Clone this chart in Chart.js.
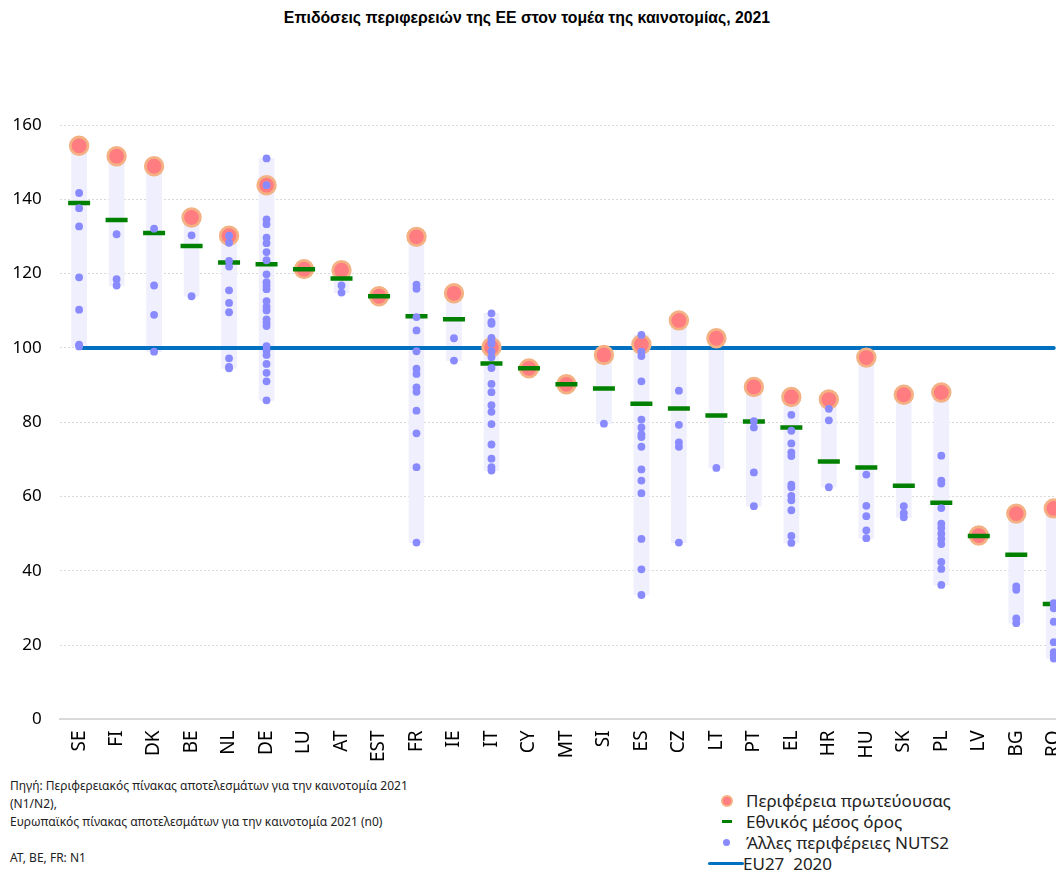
<!DOCTYPE html>
<html lang="el">
<head>
<meta charset="utf-8">
<title>Επιδόσεις περιφερειών της ΕΕ στον τομέα της καινοτομίας, 2021</title>
<script src="https://cdn.jsdelivr.net/npm/chart.js@4.4.1/dist/chart.umd.min.js"></script>
<style>
  html, body { margin: 0; padding: 0; background: #fff; overflow: hidden; width: 1056px; height: 870px; position: relative; }
  #title { position: absolute; left: 0; width: 1054px; top: 9px; text-align: center; font: bold 15.8px 'Liberation Sans', Arial, sans-serif; color: #000; }
  #wrap { position: absolute; left: -6px; top: 0; width: 1094px; height: 775px; }
  #note { position: absolute; left: 10px; top: 777px; font: 12px 'Noto Sans', sans-serif; color: #222; line-height: 18px; }
  #legend { position: absolute; left: 706px; top: 790px; font: 17px 'Noto Sans', sans-serif; color: #222; }
  #legend div { height: 21px; line-height: 21px; display: flex; align-items: center; white-space: pre; }
  #legend span.mk { display: inline-block; width: 40px; position: relative; height: 21px; }
</style>
</head>
<body>
<div id="title">Επιδόσεις περιφερειών της ΕΕ στον τομέα της καινοτομίας, 2021</div>
<div id="wrap"><canvas id="innoChart"></canvas></div>
<div id="note">
  Πηγή: Περιφερειακός πίνακας αποτελεσμάτων για την καινοτομία 2021<br>
  (N1/N2),<br>
  Ευρωπαϊκός πίνακας αποτελεσμάτων για την καινοτομία 2021 (n0)<br>
  <br>
  AT, BE, FR: N1
</div>
<div id="legend"></div>
<script>
// Countries, left to right
const countries = ['SE', 'FI', 'DK', 'BE', 'NL', 'DE', 'LU', 'AT', 'EST', 'FR', 'IE', 'IT', 'CY', 'MT', 'SI',
  'ES', 'CZ', 'LT', 'PT', 'EL', 'HR', 'HU', 'SK', 'PL', 'LV', 'BG', 'RO'];

// Capital region score per country
const capitalRegion = [154.4, 151.6, 148.9, 135.1, 130.2, 143.8, 121.2, 120.9, 113.9, 129.9, 114.7, 100.2, 94.5,
  90.2, 98.1, 100.9, 107.4, 102.6, 89.5, 86.8, 86.1, 97.4, 87.4, 88.0, 49.5, 55.4, 56.8];

// National average per country
const nationalAverage = [139.0, 134.4, 130.9, 127.4, 123.0, 122.5, 121.2, 118.7, 113.9, 108.5, 107.7, 95.8, 94.5,
  90.2, 89.1, 85.0, 83.7, 81.8, 80.2, 78.6, 69.4, 67.8, 62.9, 58.3, 49.4, 44.3, 31.1];

// Other NUTS2 regions, one list per country (same order as countries)
const otherRegions = [
  [141.7, 137.6, 132.7, 119.0, 110.3, 100.9, 100.4],
  [130.6, 118.5, 116.8],
  [132.1, 116.8, 108.9, 99.0],
  [130.3, 113.9],
  [130.2, 128.3, 123.4, 121.9, 115.5, 112.1, 109.6, 97.2, 94.9, 94.5],
  [151.0, 143.8, 134.6, 133.3, 129.7, 128.2, 125.8, 123.6, 119.8, 117.7, 116.7, 115.8, 112.6, 111.1, 110.1,
    107.7, 106.8, 105.9, 100.5, 99.3, 98.1, 95.7, 93.3, 91.0, 85.9],
  [],
  [116.8, 114.9],
  [],
  [117.0, 115.9, 108.3, 104.7, 99.1, 94.4, 93.0, 89.4, 88.2, 83.1, 77.0, 67.9, 47.6],
  [102.6, 96.6],
  [109.3, 107.0, 106.5, 102.7, 101.7, 101.1, 99.1, 97.5, 94.6, 90.3, 88.1, 84.6, 82.8, 79.5, 74.0, 70.2, 67.9, 67.0],
  [],
  [],
  [79.6],
  [103.5, 99.0, 97.8, 91.0, 80.7, 78.6, 76.7, 76.0, 73.4, 67.3, 64.3, 60.9, 48.6, 40.4, 33.5],
  [88.5, 79.3, 74.6, 73.4, 47.6],
  [67.7],
  [80.3, 78.6, 66.5, 57.4],
  [82.0, 77.7, 74.3, 71.9, 70.9, 63.2, 62.5, 60.2, 59.0, 56.3, 49.4, 47.5],
  [83.6, 80.5, 62.5],
  [65.9, 57.5, 54.7, 50.9, 48.8],
  [57.4, 55.5, 54.4],
  [71.0, 64.3, 63.5, 56.9, 52.7, 51.5, 50.0, 48.6, 47.2, 42.4, 40.5, 36.2],
  [],
  [35.8, 34.9, 27.2, 25.9],
  [31.3, 29.9, 26.3, 20.8, 18.1, 17.2, 16.4]
];

// EU27 2020 reference level
const eu27Level = 100;

const yTicks = [0, 20, 40, 60, 80, 100, 120, 140, 160];

// range band = min..max of all regions of a country
const ranges = countries.map((c, i) => {
  const all = otherRegions[i].concat([capitalRegion[i]]);
  if (all.length < 2) return null;
  return [Math.min(...all), Math.max(...all)];
});

const otherPoints = [];
countries.forEach((c, i) => {
  otherRegions[i].forEach(v => otherPoints.push({ x: c, y: v }));
});

const FONT = "'Noto Sans', sans-serif";

const ctx = document.getElementById('innoChart').getContext('2d');
const innoChart = new Chart(ctx, {
  data: {
    labels: countries,
    datasets: [
      {
        type: 'line',
        label: 'Περιφέρεια πρωτεύουσας',
        data: capitalRegion,
        showLine: false,
        pointRadius: 8.8,
        pointBackgroundColor: '#FF7C80',
        pointBorderColor: '#F4B183',
        pointBorderWidth: 2.8,
        order: 3
      },
      {
        type: 'line',
        label: 'Εθνικός μέσος όρος',
        data: nationalAverage,
        showLine: false,
        pointStyle: 'line',
        pointRadius: 11,
        pointBorderColor: '#008000',
        pointBorderWidth: 4.5,
        order: 2
      },
      {
        type: 'line',
        label: 'Άλλες περιφέρειες NUTS2',
        data: otherPoints,
        showLine: false,
        pointRadius: 3.9,
        pointBackgroundColor: '#8A8AFF',
        pointBorderWidth: 0,
        order: 1
      },
      {
        type: 'line',
        label: 'EU27  2020',
        data: countries.map(() => eu27Level),
        borderColor: '#0070C0',
        borderWidth: 4,
        borderCapStyle: 'round',
        pointRadius: 0,
        order: 4
      },
      {
        type: 'bar',
        label: 'range',
        data: ranges,
        backgroundColor: '#EFEFFD',
        barThickness: 15,
        order: 5
      }
    ]
  },
  options: {
    responsive: true,
    maintainAspectRatio: false,
    animation: false,
    layout: { padding: { left: 0, right: 0, top: 125, bottom: 2 } },
    plugins: {
      legend: { display: false },
      tooltip: { enabled: false },
      title: { display: false }
    },
    scales: {
      x: {
        type: 'category',
        grid: { display: false, drawTicks: false },
        border: { display: true, color: '#D9D9D9', width: 2 },
        ticks: {
          color: '#000',
          font: { family: FONT, size: 19 },
          minRotation: 90,
          maxRotation: 90,
          padding: 11
        }
      },
      y: {
        min: 0,
        max: 160,
        afterBuildTicks: axis => { axis.ticks = yTicks.map(v => ({ value: v })); },
        grid: { color: '#D9D9D9', drawTicks: false },
        border: { display: false, dash: [2, 2] },
        ticks: {
          color: '#000',
          font: { family: FONT, size: 17 },
          padding: 18.6
        }
      }
    }
  }
});

// legend built from the datasets
const legendBox = document.getElementById('legend');
innoChart.data.datasets.slice(0, 4).forEach(ds => {
  const row = document.createElement('div');
  const mk = document.createElement('span');
  mk.className = 'mk';
  const m = document.createElement('span');
  m.style.position = 'absolute';
  if (ds.pointStyle === 'line') {
    m.style.cssText += 'left:16px;top:9px;width:10px;height:3px;background:' + ds.pointBorderColor;
  } else if (ds.showLine === false && ds.pointBorderWidth > 1) {
    m.style.cssText += 'left:15px;top:5px;width:8px;height:8px;border-radius:50%;background:' +
      ds.pointBackgroundColor + ';border:2px solid ' + ds.pointBorderColor;
  } else if (ds.showLine === false) {
    m.style.cssText += 'left:17px;top:7px;width:7px;height:7px;border-radius:50%;background:' + ds.pointBackgroundColor;
  } else {
    m.style.cssText += 'left:2px;top:9px;width:36px;height:3px;border-radius:2px;background:' + ds.borderColor;
  }
  mk.appendChild(m);
  const txt = document.createElement('span');
  txt.textContent = ds.label;
  if (ds.showLine !== false) mk.style.width = '37px';
  row.appendChild(mk);
  row.appendChild(txt);
  legendBox.appendChild(row);
});
</script>
</body>
</html>
